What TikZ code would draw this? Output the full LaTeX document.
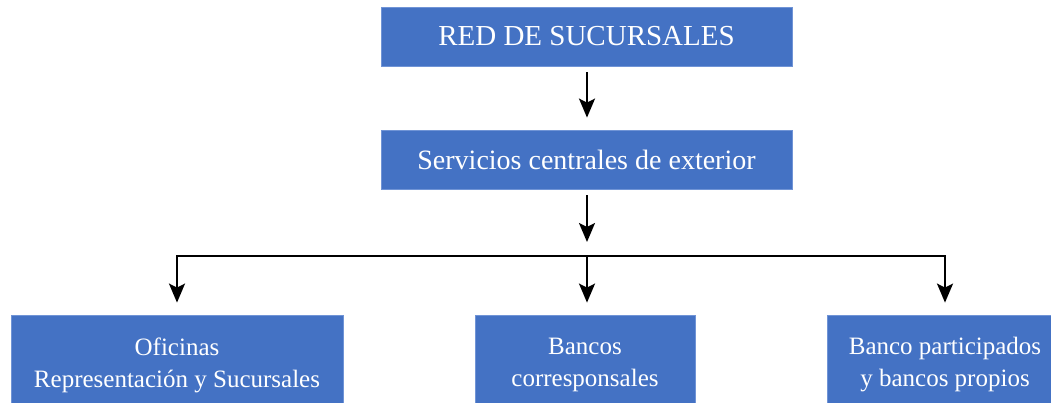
\documentclass[tikz,border=0pt]{standalone}
\usepackage{fontspec}
\setmainfont{Liberation Serif}
\usetikzlibrary{arrows.meta}
\definecolor{boxblue}{HTML}{4472C4}
\definecolor{boxedge}{HTML}{7094D6}
\tikzset{
  box/.style={fill=boxblue, draw=boxedge, line width=0.8pt, text=white, align=center, inner sep=0pt},
  conn/.style={line width=2.2pt, draw=black},
  arr/.style={conn, -{Stealth[length=19pt,width=16pt,inset=4pt]}}
}
\begin{document}
\begin{tikzpicture}[x=1pt,y=1pt]
\useasboundingbox (0,0) rectangle (1051,403);
\clip (0,0) rectangle (1051,403);
\node[box, minimum width=411pt, minimum height=59pt, font=\fontsize{29}{34}\selectfont] (red) at (586.5,366.5) {RED DE SUCURSALES};
\node[box, minimum width=411pt, minimum height=59pt, font=\fontsize{28}{34}\selectfont] (serv) at (586.5,243.5) {Servicios centrales de exterior};
\node[box, minimum width=332pt, minimum height=100pt, font=\fontsize{25}{32}\selectfont] (ofi) at (177,38) {Oficinas\\Representación y Sucursales};
\node[box, minimum width=220pt, minimum height=100pt, font=\fontsize{25}{32}\selectfont] (banc) at (585,38) {Bancos\\corresponsales};
\node[box, minimum width=236pt, minimum height=100pt, font=\fontsize{25}{32}\selectfont] (part) at (945,38) {Banco participados\\y bancos propios};
\coordinate (bus) at (587,147);
\coordinate (busl) at (177,147);
\coordinate (busr) at (945,147);
\draw[arr, shorten <=6pt, shorten >=12pt] (red.south -| bus) -- (serv.north -| bus);
\draw[arr, shorten <=6pt, shorten >=14pt] (serv.south -| bus) -- (bus);
\draw[conn, line cap=rect] (busl) -- (busr);
\draw[arr, shorten >=12pt] (busl) -- (ofi.north);
\draw[arr, shorten >=12pt] (bus) -- (banc.north -| bus);
\draw[arr, shorten >=12pt] (busr) -- (part.north);
\end{tikzpicture}
\end{document}
